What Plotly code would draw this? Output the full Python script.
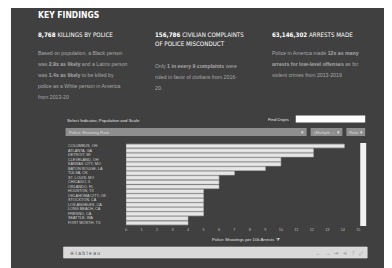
import plotly.graph_objects as go

# page is 392x268; the html body adds an 8px margin, so the figure is drawn 8px in
OFF = 8
W, H = 392 - OFF, 268 - OFF

cities = ["COLUMBUS, OH", "ATLANTA, GA", "DETROIT, MI", "CLEVELAND, OH", "KANSAS CITY, MO",
          "BATON ROUGE, LA", "TULSA, OK", "ST. LOUIS, MO", "CHICAGO, IL", "ORLANDO, FL",
          "HOUSTON, TX", "OKLAHOMA CITY, OK", "STOCKTON, CA", "LOS ANGELES, CA",
          "LONG BEACH, CA", "FRESNO, CA", "SEATTLE, WA", "FORT WORTH, TX"]
shooting_rate = [14.1, 12.1, 12.1, 10.0, 10.0, 9.0, 7.0, 6.0, 6.0, 6.0,
                 5.0, 5.0, 5.0, 5.0, 5.0, 5.0, 4.0, 4.0]
x_ticks = list(range(0, 16))

PANEL = "#404040"
COND = "Liberation Sans Narrow, DejaVu Sans Condensed, Arial Narrow, sans-serif"
SANS = "Liberation Sans, Arial, sans-serif"


def px(x):
    return (x - OFF) / W


def py(y):
    return 1 - (y - OFF) / H


fig = go.Figure()
fig.add_trace(go.Bar(
    x=shooting_rate, y=cities, orientation="h",
    marker=dict(color="#e6e6e6", line=dict(color="#b8b8b8", width=0.6)),
    hoverinfo="skip",
))

shapes = [
    dict(type="rect", xref="paper", yref="paper", x0=px(10), x1=1, y0=0, y1=1,
         fillcolor=PANEL, line=dict(width=0), layer="below"),
    # find depts input box
    dict(type="rect", xref="paper", yref="paper", x0=px(297), x1=px(367), y0=py(122.5), y1=py(115.5),
         fillcolor="#ffffff", line=dict(width=0)),
    # dropdowns
    dict(type="rect", xref="paper", yref="paper", x0=px(65), x1=px(308), y0=py(136), y1=py(128),
         fillcolor="#8e8e8e", line=dict(width=0)),
    dict(type="rect", xref="paper", yref="paper", x0=px(312), x1=px(344), y0=py(136), y1=py(128),
         fillcolor="#8e8e8e", line=dict(width=0)),
    dict(type="rect", xref="paper", yref="paper", x0=px(348), x1=px(367), y0=py(136), y1=py(128),
         fillcolor="#8e8e8e", line=dict(width=0)),
    # scrollbar
    dict(type="rect", xref="paper", yref="paper", x0=px(362), x1=px(368), y0=py(226), y1=py(143),
         fillcolor="#f2f2f2", line=dict(width=0)),
    # toolbar
    dict(type="rect", xref="paper", yref="paper", x0=px(63), x1=px(369), y0=py(258), y1=py(247),
         fillcolor="#d9d9d9", line=dict(color="#e8e8e8", width=0.6)),
]

ann = []


def text(x, y, s, size, color, family=SANS, anchor="left", yanchor="middle"):
    ann.append(dict(xref="paper", yref="paper", x=px(x), y=py(y), text=s, showarrow=False,
                    xanchor=anchor, yanchor=yanchor, borderpad=0,
                    font=dict(size=size, color=color, family=family)))


text(36, 15, "<b>KEY FINDINGS</b>", 8.5, "#ffffff", COND)
# column headings
text(36, 35, "<b>8,768</b> KILLINGS BY POLICE", 6.2, "#ffffff", COND)
text(154, 35, "<b>156,786</b> CIVILIAN COMPLAINTS", 6.2, "#ffffff", COND)
text(154, 43.5, "OF POLICE MISCONDUCT", 6.2, "#ffffff", COND)
text(272, 35, "<b>63,146,302</b> ARRESTS MADE", 6.2, "#ffffff", COND)

BODY = "#a8a8a8"
col1 = ["Based on population, a Black person",
        "was <b>2.9x as likely</b> and a Latinx person",
        "was <b>1.4x as likely</b> to be killed by",
        "police as a White person in America",
        "from 2013-20"]
for i, s in enumerate(col1):
    text(36, 53 + i * 11, s, 5.2, BODY)
col2 = ["Only <b>1 in every 9 complaints</b> were",
        "ruled in favor of civilians from 2016-",
        "20."]
for i, s in enumerate(col2):
    text(154, 66 + i * 11, s, 5.2, BODY)
col3 = ["Police in America made <b>12x as many</b>",
        "<b>arrests for low-level offenses</b> as for",
        "violent crimes from 2013-2019"]
for i, s in enumerate(col3):
    text(272, 53 + i * 11, s, 5.2, BODY)

# tableau controls
text(65, 120, "Select Indicator, Population and Scale", 4.3, "#e0e0e0")
text(268, 119, "Find Depts", 4.3, "#e0e0e0")
text(67, 132, "Police Shooting Rate", 4.3, "#d8d8d8")
text(306, 132, "▾", 4.5, "#e0e0e0", anchor="right")
text(314, 132, "(Multiple ...", 4.3, "#d8d8d8")
text(343, 132, "▾", 4.5, "#e0e0e0", anchor="right")
text(350, 132, "Rate", 4.3, "#d8d8d8")
text(366, 132, "▾", 4.5, "#e0e0e0", anchor="right")

# city labels
for c in cities:
    ann.append(dict(xref="paper", yref="y", x=px(66), y=c, text=c, showarrow=False,
                    xanchor="left", yanchor="middle", borderpad=0,
                    font=dict(size=3.8, color="#cfcfcf", family=SANS)))

text(247, 239.5, "Police Shootings per 10k Arrests  ⧩", 4.3, "#e0e0e0", anchor="center")

# toolbar
text(68, 252.5, "⁜ t a b l e a u", 5, "#555555")
text(366, 252.5, "←   →   ⇥   ⋖   ⊤   ⤢", 5, "#888888", anchor="right")

fig.update_layout(
    width=W, height=H, margin=dict(l=0, r=0, t=0, b=0),
    paper_bgcolor="#ffffff", plot_bgcolor="rgba(0,0,0,0)",
    showlegend=False, bargap=0.18,
    shapes=shapes, annotations=ann,
    xaxis=dict(domain=[px(126), px(360)], range=[0, 15], tickvals=x_ticks,
               tickfont=dict(size=3.8, color="#bdbdbd", family=SANS),
               showgrid=False, zeroline=False, showline=False, ticks=""),
    yaxis=dict(domain=[py(226), py(143)], autorange="reversed", showticklabels=False,
               showgrid=False, zeroline=False, showline=False, ticks=""),
)

fig.write_html("out.html")
